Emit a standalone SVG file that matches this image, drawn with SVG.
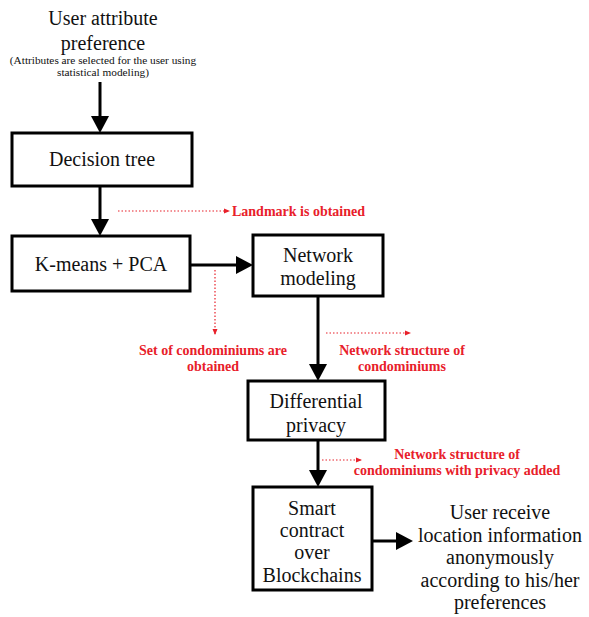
<svg xmlns="http://www.w3.org/2000/svg" width="589" height="617" viewBox="0 0 589 617">
  <style>
    .box { fill: #fff; stroke: #000; stroke-width: 3; }
    .t { font-family: "Liberation Serif", "Times New Roman", serif; font-size: 20px; fill: #111; text-anchor: middle; }
    .s { font-family: "Liberation Serif", "Times New Roman", serif; font-size: 11.3px; fill: #111; text-anchor: middle; }
    .r { font-family: "Liberation Serif", "Times New Roman", serif; font-size: 14px; font-weight: bold; fill: #e8202a; text-anchor: middle; }
    .line { stroke: #000; stroke-width: 3; fill: none; }
    .head { fill: #000; }
    .note { stroke: #e8202a; stroke-width: 1.2; stroke-dasharray: 1.5 2; fill: none; marker-end: url(#rh); }
  </style>
  <defs>
    <marker id="rh" markerWidth="6" markerHeight="6" refX="5" refY="3" orient="auto" markerUnits="userSpaceOnUse">
      <path d="M0,0.5 L6,3 L0,5.5 Z" fill="#e8202a"/>
    </marker>
  </defs>

  <g id="connectors">
    <path class="line" d="M100,82 V118"/>
    <path class="head" d="M91,116 L109,116 L100,133 Z"/>
    <path class="line" d="M100,186 V221"/>
    <path class="head" d="M91,219 L109,219 L100,236 Z"/>
    <path class="line" d="M190,265 H238"/>
    <path class="head" d="M236,256 L253,265 L236,274 Z"/>
    <path class="line" d="M318,296 V366"/>
    <path class="head" d="M309,364 L327,364 L318,381 Z"/>
    <path class="line" d="M318,440 V472"/>
    <path class="head" d="M309,470 L327,470 L318,487 Z"/>
    <path class="line" d="M372,541 H398"/>
    <path class="head" d="M396,532 L413,541 L396,550 Z"/>

    <path class="note" d="M118,211 H229"/>
    <path class="note" d="M215,270 V334"/>
    <path class="note" d="M326,333 H410"/>
    <path class="note" d="M322,460 H361"/>
  </g>

  <g id="start">
    <text class="t" x="103" y="25">User attribute</text>
    <text class="t" x="103" y="50">preference</text>
    <text class="s" x="103" y="64">(Attributes are selected for the user using</text>
    <text class="s" x="103" y="76">statistical modeling)</text>
  </g>

  <g id="decision-tree">
    <rect class="box" x="12" y="133" width="180" height="53"/>
    <text class="t" x="102" y="166">Decision tree</text>
  </g>

  <g id="kmeans-pca">
    <rect class="box" x="12" y="236" width="178" height="55"/>
    <text class="t" x="101" y="271">K-means + PCA</text>
  </g>

  <g id="network-modeling">
    <rect class="box" x="253" y="235" width="130" height="61"/>
    <text class="t" x="318" y="262">Network</text>
    <text class="t" x="318" y="285">modeling</text>
  </g>

  <g id="differential-privacy">
    <rect class="box" x="248" y="381" width="137" height="59"/>
    <text class="t" x="316" y="408">Differential</text>
    <text class="t" x="316" y="432">privacy</text>
  </g>

  <g id="smart-contract">
    <rect class="box" x="253" y="487" width="119" height="103"/>
    <text class="t" x="312" y="515">Smart</text>
    <text class="t" x="312" y="537">contract</text>
    <text class="t" x="312" y="559">over</text>
    <text class="t" x="312" y="582">Blockchains</text>
  </g>

  <g id="result">
    <text class="t" x="500" y="519">User receive</text>
    <text class="t" x="500" y="541.5">location information</text>
    <text class="t" x="500" y="564">anonymously</text>
    <text class="t" x="500" y="586.5">according to his/her</text>
    <text class="t" x="500" y="609">preferences</text>
  </g>

  <g id="labels">
    <text class="r" x="232" y="216" style="text-anchor:start">Landmark is obtained</text>
    <text class="r" x="213" y="355">Set of condominiums are</text>
    <text class="r" x="213" y="371">obtained</text>
    <text class="r" x="402" y="355">Network structure of</text>
    <text class="r" x="402" y="371">condominiums</text>
    <text class="r" x="457" y="459">Network structure of</text>
    <text class="r" x="457" y="475">condominiums with privacy added</text>
  </g>
</svg>
